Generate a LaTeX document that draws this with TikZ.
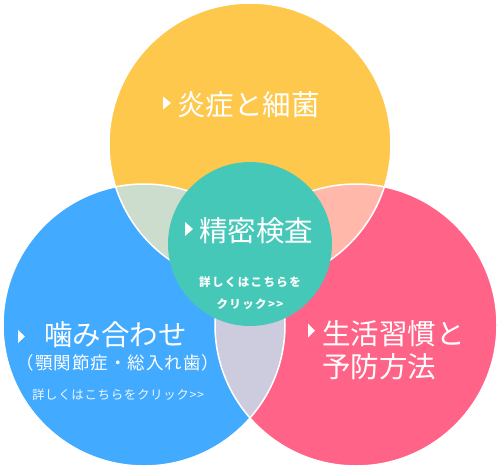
\documentclass[tikz,border=0pt]{standalone}
\usepackage{fontspec}
\newfontfamily\jp{Noto Sans CJK JP}
\definecolor{cyel}{RGB}{254,200,76}
\definecolor{cblue}{RGB}{66,170,255}
\definecolor{cpink}{RGB}{255,100,136}
\definecolor{cteal}{RGB}{70,200,185}
\definecolor{lensyb}{RGB}{204,220,205}
\definecolor{lensyp}{RGB}{255,184,170}
\definecolor{lensbp}{RGB}{204,204,222}
\tikzset{
  title/.style={inner sep=0pt, text=white, font=\jp\fontsize{28.5}{32}\selectfont},
  sub/.style={inner sep=0pt, text=white, font=\jp\addfontfeature{LetterSpace=6}\fontsize{17.5}{20}\selectfont},
  more/.style={inner sep=0pt, text=white, font=\jp\addfontfeature{LetterSpace=5}\fontsize{12.5}{15}\selectfont},
  morebold/.style={inner sep=0pt, text=white, font=\jp\bfseries\addfontfeature{LetterSpace=12}\fontsize{11.5}{14}\selectfont},
  tri/.style={fill=white},
  ring/.style={draw=white, line width=1.5pt}
}
\begin{document}
\begin{tikzpicture}[x=1pt,y=-1pt]
\useasboundingbox (0,0) rectangle (500,471);
\coordinate (Y) at (250,144);
\coordinate (B) at (144,325);
\coordinate (P) at (356,325);
\coordinate (T) at (250,244);
\fill[cyel] (Y) circle (141pt);
\fill[cblue] (B) circle (141pt);
\fill[cpink] (P) circle (141pt);
\begin{scope}
  \clip (Y) circle (141pt);
  \fill[lensyb] (B) circle (141pt);
  \fill[lensyp] (P) circle (141pt);
\end{scope}
\begin{scope}
  \clip (B) circle (141pt);
  \fill[lensbp] (P) circle (141pt);
\end{scope}
\path[ring] (Y) circle (141pt) (B) circle (141pt) (P) circle (141pt);
\fill[cteal] (T) circle (82pt);

% yellow
\fill[tri] (163,96.5) -- (171,103) -- (163,109.5) -- cycle;
\node[title, anchor=west] (ty) at (177,105) {炎症と細菌};
% teal
\fill[tri] (185,222) -- (193,229) -- (185,236) -- cycle;
\node[title, anchor=west] (tt) at (199,231) {精密検査};
\node[morebold] (tm1) at (250,282) {詳しくはこちらを};
\node[morebold] (tm2) at (250,304) {クリック>>};
% blue
\fill[tri] (18,330) -- (25,336.5) -- (18,343) -- cycle;
\node[title, anchor=west] (tb) at (44,335) {噛み合わせ};
\node[sub] (tbs) at (118,363) {（顎関節症・総入れ歯）};
\node[more, text opacity=0.9] (tbm) at (118,395) {詳しくはこちらをクリック>>};
% pink
\fill[tri] (308,323.5) -- (315,330.5) -- (308,337.5) -- cycle;
\node[title, anchor=west] (tp1) at (322,334) {生活習慣と};
\node[title, anchor=west] (tp2) at (322,366.5) {予防方法};
\end{tikzpicture}
\end{document}
